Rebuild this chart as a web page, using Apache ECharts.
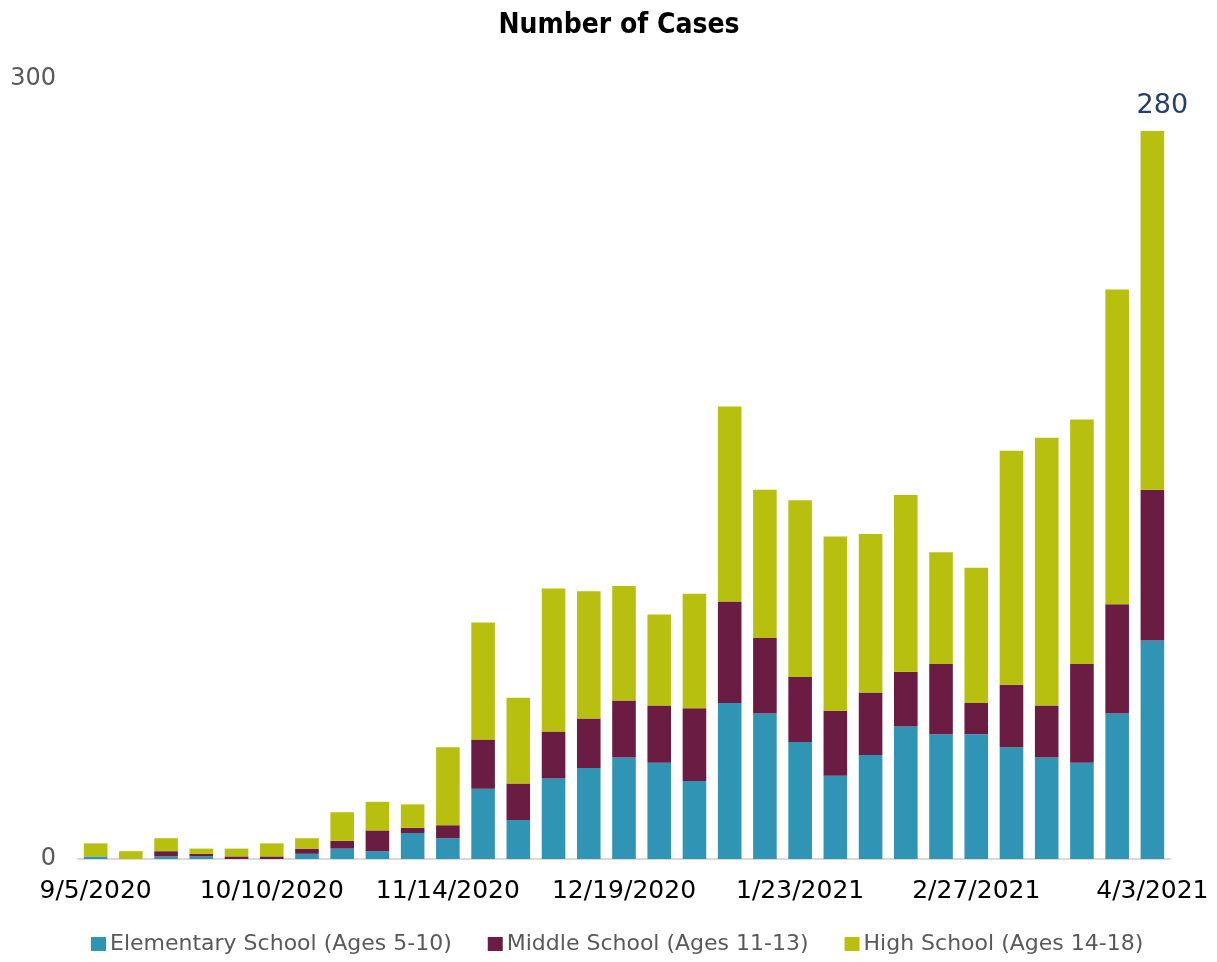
<!DOCTYPE html>
<html>
<head>
<meta charset="utf-8">
<script src="https://cdn.jsdelivr.net/npm/echarts@6/dist/echarts.min.js"></script>
<style>
  * { margin: 0; padding: 0; }
  body { background: #fff; }
  #chart { width: 1217px; height: 962px; }
</style>
</head>
<body>
<div id="chart"></div>
<script>
var weeks = ['9/5/2020', '9/12/2020', '9/19/2020', '9/26/2020', '10/3/2020', '10/10/2020', '10/17/2020',
  '10/24/2020', '10/31/2020', '11/7/2020', '11/14/2020', '11/21/2020', '11/28/2020', '12/5/2020',
  '12/12/2020', '12/19/2020', '12/26/2020', '1/2/2021', '1/9/2021', '1/16/2021', '1/23/2021',
  '1/30/2021', '2/6/2021', '2/13/2021', '2/20/2021', '2/27/2021', '3/6/2021', '3/13/2021',
  '3/20/2021', '3/27/2021', '4/3/2021']

var elementary = [1, 0, 1, 1, 0, 0, 2, 4, 3, 10, 8, 27, 15, 31, 35, 39, 37, 30, 60, 56, 45, 32, 40, 51, 48, 48, 43, 39, 37, 56, 84]
var middle = [0, 0, 2, 1, 1, 1, 2, 3, 8, 2, 5, 19, 14, 18, 19, 22, 22, 28, 39, 29, 25, 25, 24, 21, 27, 12, 24, 20, 38, 42, 58]
var high = [5, 3, 5, 2, 3, 5, 4, 11, 11, 9, 30, 45, 33, 55, 49, 44, 35, 44, 75, 57, 68, 67, 61, 68, 43, 52, 90, 103, 94, 121, 138]

var yTicks = [0, 300]

var labelFont = 'DejaVu Sans'
var last = weeks.length - 1

// only the last bar carries the total on top
var highData = high.map(function (v, i) {
  if (i !== last) return v
  return {
    value: v,
    label: {
      show: true,
      position: 'top',
      distance: 12,
      offset: [10, 0],
      fontFamily: labelFont,
      fontSize: 27,
      color: '#243f6b',
      formatter: function (p) {
        var i = p.dataIndex
        return elementary[i] + middle[i] + high[i]
      }
    }
  }
})

var chart = echarts.init(document.getElementById('chart'))
chart.setOption({
  animation: false,
  title: {
    text: 'Number of Cases',
    left: 614,
    textAlign: 'center',
    top: 7,
    textStyle: {
      fontFamily: '"Liberation Sans Narrow", "DejaVu Sans Condensed", sans-serif',
      fontWeight: 'bold',
      fontSize: 28,
      color: '#000'
    }
  },
  grid: {
    left: 78,
    right: 47,
    top: 79,
    bottom: 103
  },
  legend: {
    bottom: 2,
    left: 86,
    itemWidth: 15,
    itemHeight: 14,
    itemGap: 36,
    icon: 'rect',
    textStyle: {
      fontFamily: labelFont,
      fontSize: 22,
      color: '#595959',
      padding: [0, 0, 0, -1]
    }
  },
  xAxis: {
    type: 'category',
    data: weeks,
    axisTick: { show: false },
    axisLine: { lineStyle: { color: '#d9d9d9', width: 2 } },
    axisLabel: {
      interval: 4,
      hideOverlap: false,
      margin: 20,
      fontFamily: labelFont,
      fontSize: 25,
      color: '#000'
    }
  },
  yAxis: {
    type: 'value',
    min: yTicks[0],
    max: yTicks[1],
    interval: yTicks[1] - yTicks[0],
    splitLine: { show: false },
    axisLine: { show: false },
    axisTick: { show: false },
    axisLabel: {
      margin: 22,
      fontFamily: labelFont,
      fontSize: 24,
      color: '#595959'
    }
  },
  series: [
    {
      name: 'Elementary School (Ages 5-10)',
      type: 'bar',
      stack: 'cases',
      barCategoryGap: '33%',
      data: elementary,
      itemStyle: { color: '#3095b4' }
    },
    {
      name: 'Middle School (Ages 11-13)',
      type: 'bar',
      stack: 'cases',
      data: middle,
      itemStyle: { color: '#6b1c42' }
    },
    {
      name: 'High School (Ages 14-18)',
      type: 'bar',
      stack: 'cases',
      data: highData,
      itemStyle: { color: '#b7c00e' }
    }
  ]
})
</script>
</body>
</html>
